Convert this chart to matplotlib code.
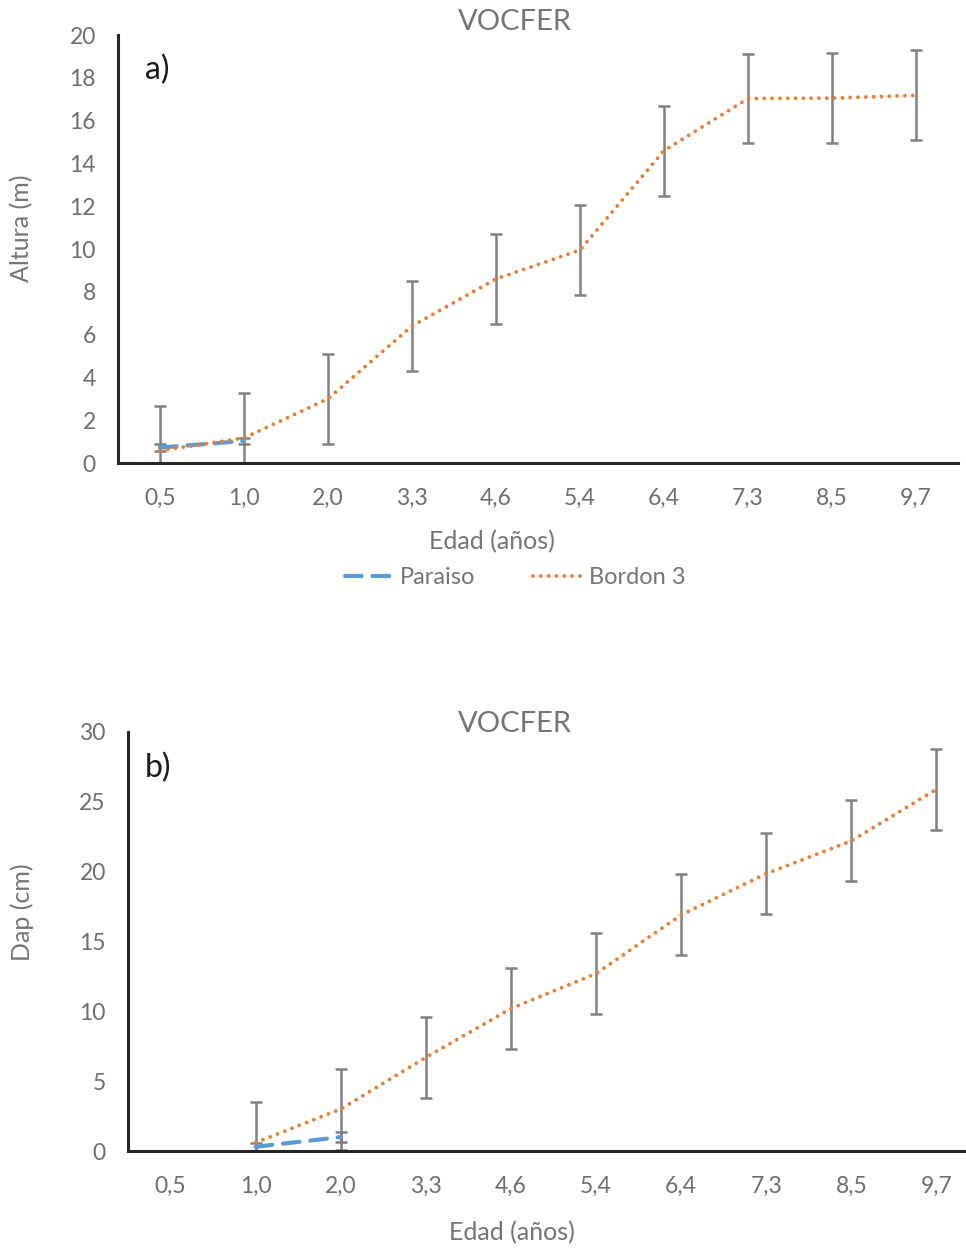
import numpy as np
import matplotlib.pyplot as plt
from matplotlib.lines import Line2D

plt.rcParams['font.family'] = ['Lato', 'DejaVu Sans']

edad = ["0,5", "1,0", "2,0", "3,3", "4,6", "5,4", "6,4", "7,3", "8,5", "9,7"]

# a) altura (m)
alt_paraiso = [0.72, 1.03]
alt_paraiso_err = [0.16, 0.16]
alt_bordon = [0.58, 1.17, 3.0, 6.4, 8.6, 9.95, 14.6, 17.03, 17.05, 17.18]
alt_bordon_err = [2.1, 2.1, 2.1, 2.1, 2.1, 2.1, 2.1, 2.1, 2.1, 2.1]

# b) dap (cm)
dap_paraiso = [0.3, 1.0]
dap_paraiso_err = [0.3, 0.38]
dap_bordon = [0.6, 3.0, 6.7, 10.2, 12.7, 16.9, 19.86, 22.2, 25.9]
dap_bordon_err = [2.9, 2.9, 2.9, 2.9, 2.9, 2.9, 2.9, 2.9, 2.9]

W, H = 966, 1249
BLUE = '#5b9bd5'
ORANGE = '#ed7d31'
GREY = '#808080'
TXT = '#757575'
DASH = (0, (4.0, 2.6))
DOT = (0, (0.01, 2.0))

fig = plt.figure(figsize=(W / 100, H / 100), dpi=100)


def fx(px):
    return px / W


def fy(py):
    return 1 - py / H


def make_axes(left, right, top, bottom):
    ax = fig.add_axes([fx(left), fy(bottom), fx(right - left), (bottom - top) / H])
    for s in ['top', 'right']:
        ax.spines[s].set_visible(False)
    for s in ['left', 'bottom']:
        ax.spines[s].set_linewidth(2.2)
        ax.spines[s].set_color('#262626')
    ax.tick_params(length=0, labelsize=16.5, labelcolor='#6e6e6e')
    ax.tick_params(axis='x', pad=18)
    ax.tick_params(axis='y', pad=16)
    ax.set_xlim(-0.5, len(edad) - 0.5)
    ax.set_xticks(np.arange(len(edad)))
    ax.set_xticklabels(edad)
    return ax


def draw(ax, x_par, par, par_err, x_bor, bor, bor_err):
    ax.errorbar(x_bor, bor, yerr=bor_err, fmt='none', ecolor=GREY, elinewidth=1.8,
                capsize=4.3, capthick=1.8, zorder=2)
    ax.errorbar(x_par, par, yerr=par_err, fmt='none', ecolor=GREY, elinewidth=1.8,
                capsize=4.3, capthick=1.8, zorder=2)
    ax.plot(x_par, par, color=BLUE, lw=3.0, linestyle=DASH,
            dash_capstyle='round', zorder=3)
    ax.plot(x_bor, bor, color=ORANGE, lw=2.8, linestyle=DOT,
            dash_capstyle='round', zorder=4)


# ---- a)
ax1 = make_axes(118, 958, 35, 463)
ax1.set_ylim(0, 20)
ax1.set_yticks(np.arange(0, 21, 2))
draw(ax1, [0, 1], alt_paraiso, alt_paraiso_err,
     np.arange(10), alt_bordon, alt_bordon_err)

# ---- b)
ax2 = make_axes(128, 979, 732, 1151)
ax2.set_ylim(0, 30)
ax2.set_yticks(np.arange(0, 31, 5))
draw(ax2, [1, 2], dap_paraiso, dap_paraiso_err,
     np.arange(1, 10), dap_bordon, dap_bordon_err)

# texts
for ty in [22, 724]:
    fig.text(fx(515), fy(ty), "VOCFER", ha='center', va='center', fontsize=21, color=TXT)
fig.text(fx(145), fy(70), "a)", ha='left', va='center', fontsize=23, color='#1a1a1a')
fig.text(fx(145), fy(768), "b)", ha='left', va='center', fontsize=23, color='#1a1a1a')
fig.text(fx(22), fy(228), "Altura (m)", rotation=90, ha='center', va='center', fontsize=18, color=TXT)
fig.text(fx(22), fy(912), "Dap (cm)", rotation=90, ha='center', va='center', fontsize=18, color=TXT)
fig.text(fx(492), fy(542), "Edad (años)", ha='center', va='center', fontsize=18, color=TXT)
fig.text(fx(512), fy(1233), "Edad (años)", ha='center', va='center', fontsize=18, color=TXT)

handles = [
    Line2D([], [], color=BLUE, lw=3.0, linestyle=DASH, dash_capstyle='round'),
    Line2D([], [], color=ORANGE, lw=2.8, linestyle=DOT, dash_capstyle='round'),
]
fig.legend(handles, ["Paraiso", "Bordon 3"], loc='center', bbox_to_anchor=(fx(515), fy(578)),
           ncol=2, frameon=False, fontsize=17, handlelength=2.0, columnspacing=2.45,
           handletextpad=0.35, labelcolor=TXT)

fig.savefig("out.png", dpi=100)
